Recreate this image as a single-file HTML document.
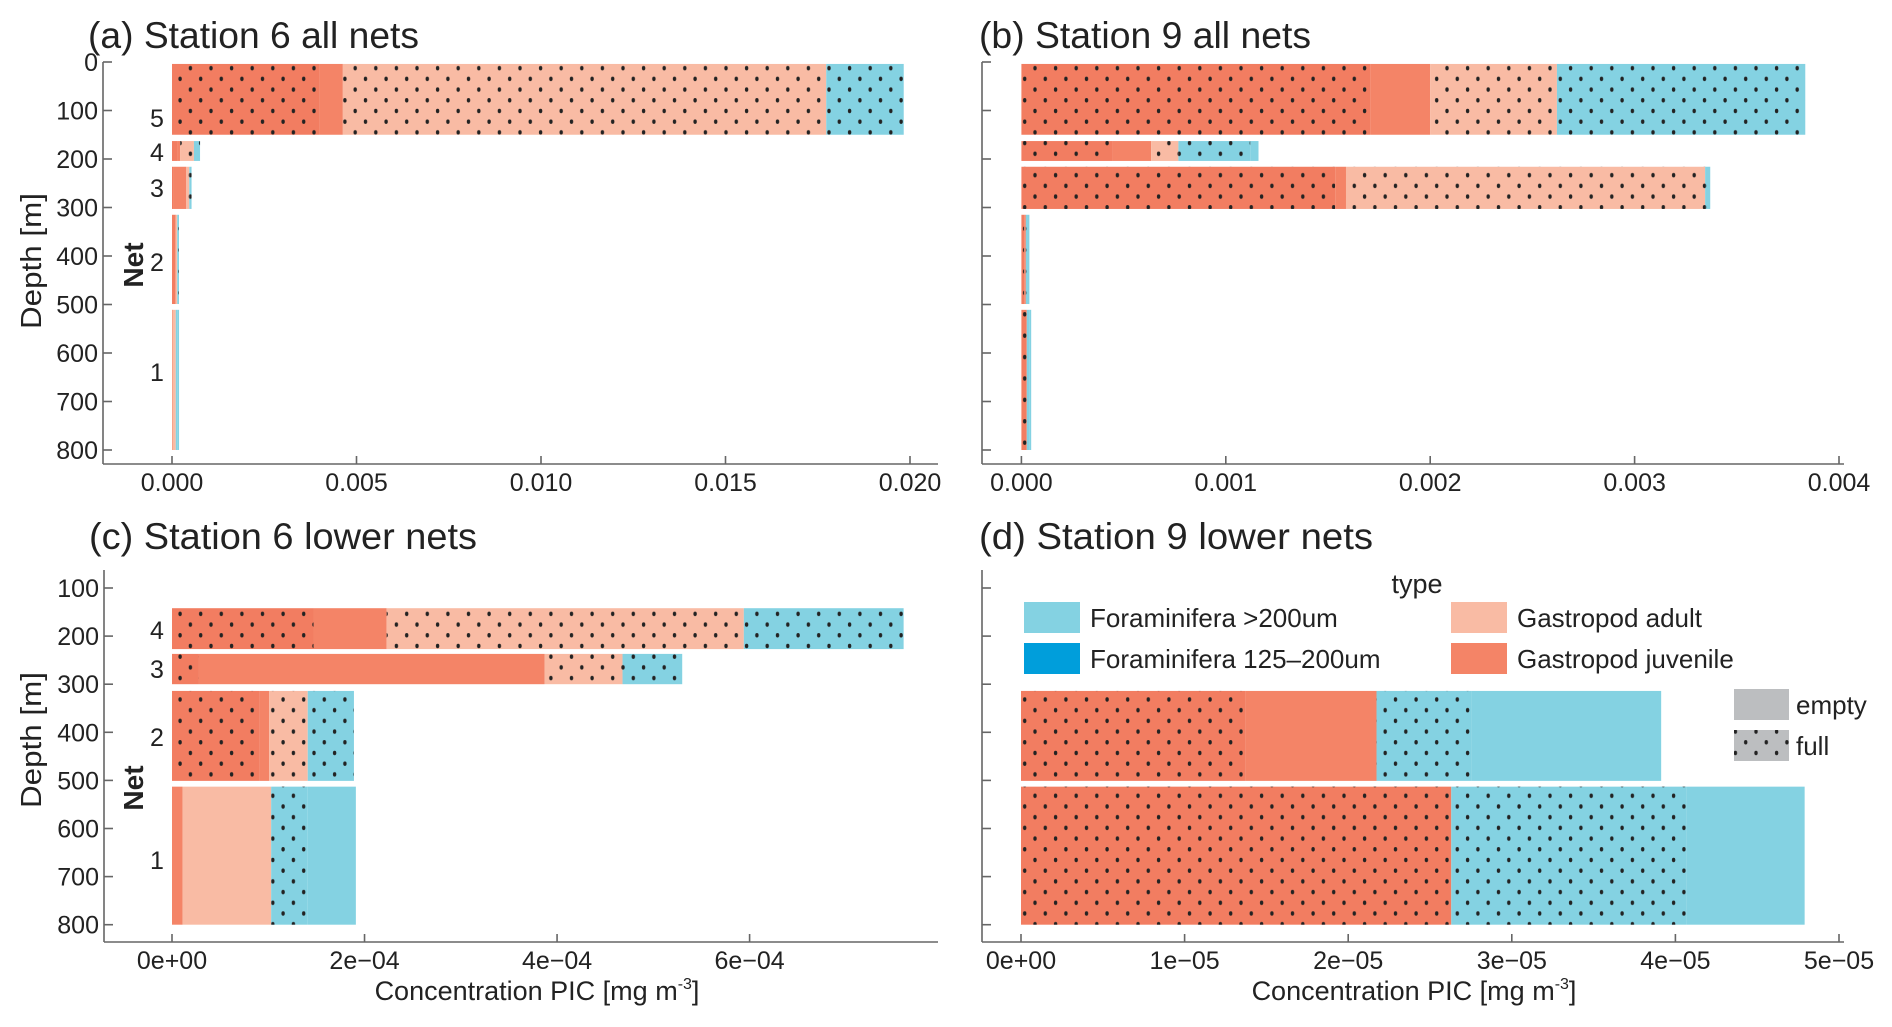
<!DOCTYPE html>
<html><head><meta charset="utf-8"><style>
html,body{margin:0;padding:0;background:#fff;}
svg{display:block;font-family:"Liberation Sans",sans-serif;}
</style></head><body>
<svg id="chart" xmlns="http://www.w3.org/2000/svg" width="1892" height="1027" viewBox="0 0 1892 1027">
<defs>
<pattern id="dots" patternUnits="userSpaceOnUse" width="20.6" height="21.4">
<ellipse cx="5" cy="4" rx="1.7" ry="2.2" fill="#222"/>
<ellipse cx="15.3" cy="14.7" rx="1.7" ry="2.2" fill="#222"/>
</pattern>
</defs>
<g id="root"></g>
</svg>
<script>
// ---- data ----
const segmentTypes = ["juvenile-full","juvenile-empty","adult-full","adult-empty","foram-full","foram-empty"];
const netLabels = ["1","2","3","4","5"];
// Station 6 (nets 1..5)
const st6JuvFull    = [0, 0.91e-4, 0.28e-4, 1.47e-4, 0.0040];
const st6JuvEmpty   = [0.11e-4, 0.10e-4, 3.59e-4, 0.76e-4, 0.00063];
const st6AdultFull  = [0, 0.40e-4, 0.81e-4, 3.71e-4, 0.0131];
const st6AdultEmpty = [0.92e-4, 0, 0, 0, 0];
const st6ForamFull  = [0.38e-4, 0.48e-4, 0.62e-4, 1.66e-4, 0.0021];
const st6ForamEmpty = [0.50e-4, 0, 0, 0, 0];
// Station 9 (nets 1..5)
const st9JuvFull    = [2.63e-5, 1.373e-5, 1.535e-3, 0.446e-3, 1.706e-3];
const st9JuvEmpty   = [0, 0.80e-5, 0.053e-3, 0.189e-3, 0.294e-3];
const st9AdultFull  = [0, 0, 1.757e-3, 0.133e-3, 0.62e-3];
const st9AdultEmpty = [0, 0, 0, 0, 0];
const st9ForamFull  = [1.44e-5, 0.58e-5, 0.025e-3, 0.352e-3, 1.215e-3];
const st9ForamEmpty = [0.72e-5, 1.16e-5, 0, 0.04e-3, 0];
// net depth ranges [top, bottom] in m
const netTopUpper = [511, 315, 216, 163, 4];
const netBotUpper = [800, 499, 303, 204, 150];
const netTopLower = [513, 314, 237, 142];
const netBotLower = [800, 501, 300, 227];
const ticksA = ["0.000","0.005","0.010","0.015","0.020"];
const tickValsA = [0,0.005,0.010,0.015,0.020];
const ticksB = ["0.000","0.001","0.002","0.003","0.004"];
const tickValsB = [0,0.001,0.002,0.003,0.004];
const ticksC = ["0e+00","2e\u221204","4e\u221204","6e\u221204"];
const tickValsC = [0,2e-4,4e-4,6e-4];
const ticksD = ["0e+00","1e\u221205","2e\u221205","3e\u221205","4e\u221205","5e\u221205"];
const tickValsD = [0,1e-5,2e-5,3e-5,4e-5,5e-5];
const depthTicksUpper = [0,100,200,300,400,500,600,700,800];
const depthTicksLower = [100,200,300,400,500,600,700,800];

const COL = {juv:"#F48467", juvFull:"#F27D61", adult:"#F9BBA4", foram:"#84D2E2"};
const NS="http://www.w3.org/2000/svg";
const root=document.getElementById('root');
function mk(tag,attrs,parent,text){const e=document.createElementNS(NS,tag);for(const k in attrs)e.setAttribute(k,attrs[k]);if(text!==undefined)e.textContent=text;(parent||root).appendChild(e);return e;}

function panel(p){
  const g=mk('g',{});
  
  
  const xs=v=>p.x0+v*p.xk;
  const ys=d=>p.y0+(d-p.d0)*p.yk;
  const t=mk('text',{x:p.tx,y:p.ty,'font-size':37,fill:'#222',textLength:p.tw,lengthAdjust:'spacingAndGlyphs'},g,p.title);
  
  
  const series=[
    {v:p.jf,c:COL.juvFull,dot:true},{v:p.je,c:COL.juv,dot:false},
    {v:p.af,c:COL.adult,dot:true},{v:p.ae,c:COL.adult,dot:false},
    {v:p.ff,c:COL.foram,dot:true},{v:p.fe,c:COL.foram,dot:false}];
  for(let n=0;n<p.tops.length;n++){
    let cum=0;
    const y1=ys(p.tops[n]), y2=ys(p.bots[n]);
    series.forEach((s,si)=>{
      const v=s.v[n]; if(!v) return;
      const xa=xs(cum), xb=xs(cum+v); cum+=v;
      const r=mk('rect',{x:xa,y:y1,width:Math.max(xb-xa,0.6),height:y2-y1,fill:s.c},g);
      
      
      if(s.dot){mk('rect',{x:xa,y:y1,width:Math.max(xb-xa,0.6),height:y2-y1,fill:'url(#dots)'},g);}
    });
  }
  const ax=mk('g',{stroke:'#666','stroke-width':1.6,fill:'none'},g);
  mk('line',{x1:p.ax,y1:p.ayTop,x2:p.ax,y2:p.axY},ax);
  mk('line',{x1:p.ax,y1:p.axY,x2:p.axRight,y2:p.axY},ax);
  p.depthTicks.forEach(d=>{
    mk('line',{x1:p.ax,y1:ys(d),x2:p.ax+9,y2:ys(d)},ax);
    if(p.yLabels){const l=mk('text',{x:p.ax-5,y:ys(d)+9,'font-size':25,fill:'#222','text-anchor':'end',stroke:'none'},g,String(d));
      }
  });
  p.tickVals.forEach((v,i)=>{
    mk('line',{x1:xs(v),y1:p.axY,x2:xs(v),y2:p.axY-8},ax);
    const l=mk('text',{x:xs(v),y:p.axY+27,'font-size':25,fill:'#222','text-anchor':'middle'},g,p.ticks[i]);
    
  });
  if(p.netLabelY){
    p.netLabelY.forEach((yy,i)=>{const l=mk('text',{x:157,y:yy+9,'font-size':25,fill:'#222','text-anchor':'middle'},g,netLabels[i]);
      });
    const dl=mk('text',{x:0,y:0,'font-size':29,fill:'#222','text-anchor':'middle',transform:`translate(41,${p.depthY}) rotate(-90)`,textLength:136,lengthAdjust:'spacingAndGlyphs'},g,'Depth [m]');
    
    const nl=mk('text',{x:0,y:0,'font-size':28,fill:'#222','text-anchor':'middle','font-weight':'bold',transform:`translate(143,${p.netY}) rotate(-90)`},g,'Net');
    
  }
  if(p.xTitle){
    const xt=mk('text',{x:p.xTitle,y:1000,'font-size':27,fill:'#222','text-anchor':'middle'},g);
    
    xt.appendChild(document.createTextNode('Concentration PIC [mg m'));
    mk('tspan',{'font-size':16,dy:-11},xt,'-3');
    mk('tspan',{dy:11},xt,']');
  }
}

panel({name:'panel-a',title:'(a) Station 6 all nets',tx:88,ty:48,tw:331,
  x0:172,xk:(910-172)/0.02,y0:62,d0:0,yk:0.485,
  tops:netTopUpper,bots:netBotUpper,
  jf:st6JuvFull,je:st6JuvEmpty,af:st6AdultFull,ae:st6AdultEmpty,ff:st6ForamFull,fe:st6ForamEmpty,
  ax:103,ayTop:62,axY:464,axRight:938,depthTicks:depthTicksUpper,yLabels:true,
  ticks:ticksA,tickVals:tickValsA,netLabelY:[372,262,188,152,118],depthY:261,netY:265});
panel({name:'panel-b',title:'(b) Station 9 all nets',tx:979,ty:48,tw:332,
  x0:1021.4,xk:(1839-1021.4)/0.004,y0:62,d0:0,yk:0.485,
  tops:netTopUpper,bots:netBotUpper,
  jf:st9JuvFull,je:st9JuvEmpty,af:st9AdultFull,ae:st9AdultEmpty,ff:st9ForamFull,fe:st9ForamEmpty,
  ax:982,ayTop:62,axY:464,axRight:1844,depthTicks:depthTicksUpper,yLabels:false,
  ticks:ticksB,tickVals:tickValsB});
panel({name:'panel-c',title:'(c) Station 6 lower nets',tx:89,ty:549,tw:388,
  x0:172,xk:(749.6-172)/6e-4,y0:588,d0:100,yk:0.481,
  tops:netTopLower,bots:netBotLower,
  jf:st6JuvFull.slice(0,4),je:st6JuvEmpty.slice(0,4),af:st6AdultFull.slice(0,4),ae:st6AdultEmpty.slice(0,4),ff:st6ForamFull.slice(0,4),fe:st6ForamEmpty.slice(0,4),
  ax:104,ayTop:570,axY:942,axRight:938,depthTicks:depthTicksLower,yLabels:true,
  ticks:ticksC,tickVals:tickValsC,netLabelY:[860,737,669,630],depthY:740,netY:788,xTitle:537});
panel({name:'panel-d',title:'(d) Station 9 lower nets',tx:979,ty:549,tw:394,
  x0:1021,xk:(1839-1021)/5e-5,y0:588,d0:100,yk:0.481,
  tops:netTopLower.slice(0,2),bots:netBotLower.slice(0,2),
  jf:st9JuvFull,je:st9JuvEmpty,af:st9AdultFull,ae:st9AdultEmpty,ff:st9ForamFull,fe:st9ForamEmpty,
  ax:982,ayTop:570,axY:942,axRight:1844,depthTicks:depthTicksLower,yLabels:false,
  ticks:ticksD,tickVals:tickValsD,xTitle:1414});

const lg=mk('g',{});


mk('text',{x:1417,y:593,'font-size':27,fill:'#222','text-anchor':'middle'},lg,'type');
const legendItems=[
  {x:1024,y:602,c:'#84D2E2',t:'Foraminifera >200um',n:'legend-foram-200'},
  {x:1024,y:643,c:'#009EDB',t:'Foraminifera 125\u2013200um',n:'legend-foram-125'},
  {x:1451,y:602,c:'#F9BBA4',t:'Gastropod adult',n:'legend-gastropod-adult'},
  {x:1451,y:643,c:'#F48467',t:'Gastropod juvenile',n:'legend-gastropod-juvenile'}];
legendItems.forEach(it=>{
  const e=mk('g',{},lg);
  
  
  mk('rect',{x:it.x,y:it.y,width:56,height:31,fill:it.c},e);
  mk('text',{x:it.x+66,y:it.y+25,'font-size':26,fill:'#222'},e,it.t);
});
const le=mk('g',{},lg);


mk('rect',{x:1734,y:689,width:55,height:31,fill:'#BCBEC0'},le);
mk('text',{x:1796,y:714,'font-size':26,fill:'#222'},le,'empty');
const lf=mk('g',{},lg);


mk('rect',{x:1734,y:730,width:55,height:31,fill:'#BCBEC0'},lf);
mk('rect',{x:1734,y:730,width:55,height:31,fill:'url(#dots)'},lf);
mk('text',{x:1796,y:755,'font-size':26,fill:'#222'},lf,'full');
</script>
</body></html>
